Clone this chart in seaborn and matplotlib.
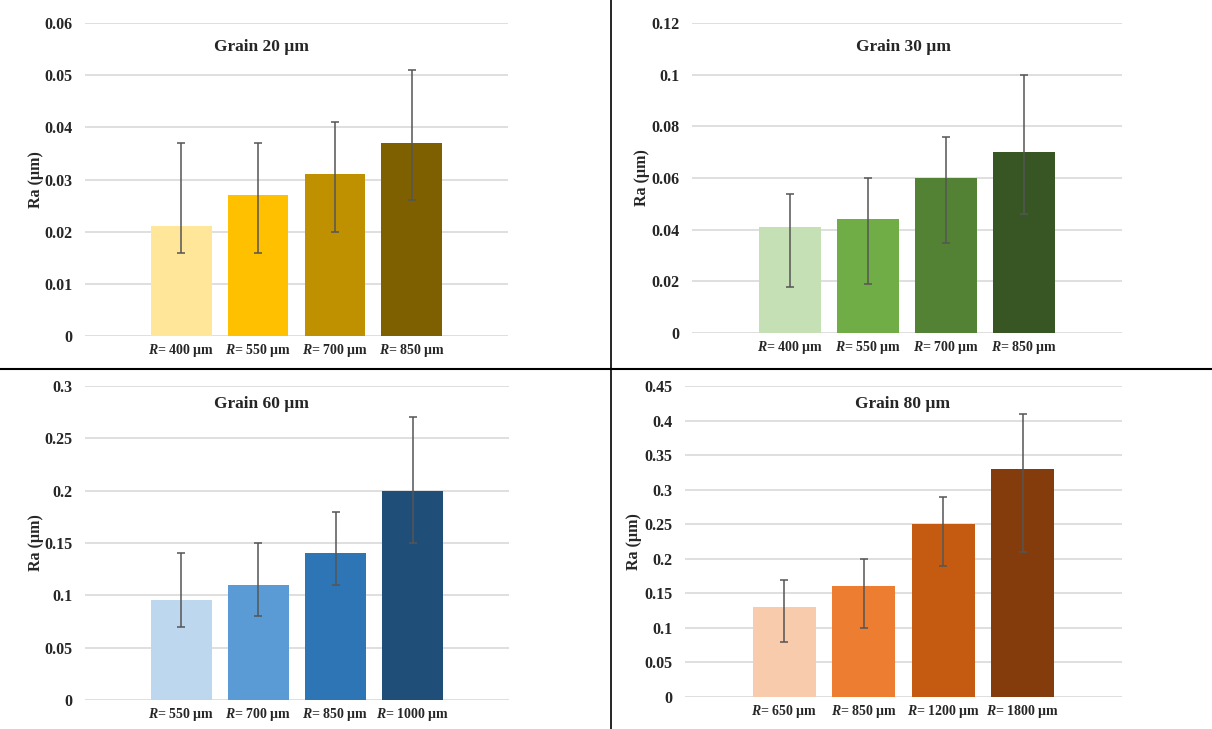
import numpy as np
import pandas as pd
import matplotlib
matplotlib.use("Agg")
import matplotlib.pyplot as plt
import seaborn as sns

# Data
titles = ["Grain 20 µm", "Grain 30 µm", "Grain 60 µm", "Grain 80 µm"]

radius_20 = ["400", "550", "700", "850"]
ra_20 = [0.021, 0.027, 0.031, 0.037]
lo_20 = [0.016, 0.016, 0.020, 0.026]
hi_20 = [0.037, 0.037, 0.041, 0.051]

radius_30 = ["400", "550", "700", "850"]
ra_30 = [0.041, 0.044, 0.060, 0.070]
lo_30 = [0.018, 0.019, 0.035, 0.046]
hi_30 = [0.054, 0.060, 0.076, 0.100]

radius_60 = ["550", "700", "850", "1000"]
ra_60 = [0.096, 0.110, 0.140, 0.200]
lo_60 = [0.070, 0.080, 0.110, 0.150]
hi_60 = [0.140, 0.150, 0.180, 0.270]

radius_80 = ["650", "850", "1200", "1800"]
ra_80 = [0.130, 0.160, 0.250, 0.330]
lo_80 = [0.080, 0.100, 0.190, 0.210]
hi_80 = [0.170, 0.200, 0.290, 0.410]

y_max = [0.06, 0.12, 0.3, 0.45]
y_step = [0.01, 0.02, 0.05, 0.05]

colors_20 = ["#FFE699", "#FFC000", "#BF9000", "#7F6000"]
colors_30 = ["#C5E0B4", "#70AD47", "#548235", "#375623"]
colors_60 = ["#BDD7EE", "#5B9BD5", "#2E75B6", "#1F4E79"]
colors_80 = ["#F8CBAD", "#ED7D31", "#C55A11", "#843C0C"]

sns.set_theme(style="white")
plt.rcParams["font.family"] = ["Liberation Serif", "DejaVu Serif"]
plt.rcParams["mathtext.fontset"] = "custom"
plt.rcParams["mathtext.bfit"] = "Liberation Serif:italic:bold"
plt.rcParams["mathtext.rm"] = "Liberation Serif:bold"

W, H = 1212, 729
fig = plt.figure(figsize=(W / 100, H / 100), dpi=100)

# pixel boxes (left, right, top, bottom) of each plot area, title position, ylabel x
boxes = [(85, 508, 23, 336), (692, 1122, 23, 333), (85, 509, 386, 700), (685, 1122, 386, 697)]
title_pos = [(262, 47), (903, 47), (262, 404), (903, 404)]
ylab_x = [36, 642, 36, 634]

panels = [
    (radius_20, ra_20, lo_20, hi_20, colors_20),
    (radius_30, ra_30, lo_30, hi_30, colors_30),
    (radius_60, ra_60, lo_60, hi_60, colors_60),
    (radius_80, ra_80, lo_80, hi_80, colors_80),
]

for i, (rad, ra, lo, hi, cols) in enumerate(panels):
    l, r, t, b = boxes[i]
    ax = fig.add_axes([l / W, 1 - b / H, (r - l) / W, (b - t) / H])
    labels = [r"$\mathbfit{R}$= " + v + " µm" for v in rad]
    df = pd.DataFrame({"label": labels, "ra": ra})
    sns.barplot(data=df, x="label", y="ra", hue="label", palette=cols,
                order=labels, legend=False, width=0.79, saturation=1, ax=ax,
                linewidth=0, zorder=2)
    ra_a = np.array(ra)
    yerr = [ra_a - np.array(lo), np.array(hi) - ra_a]
    ax.errorbar(np.arange(len(ra)), ra_a, yerr=yerr, fmt="none",
                ecolor="#555555", elinewidth=1.1, capsize=3, capthick=1.1, zorder=3)
    ax.set_xlim(-1.25, len(ra) - 1 + 1.25)
    ax.set_ylim(0, y_max[i])
    ticks = np.round(np.arange(0, y_max[i] + y_step[i] / 2, y_step[i]), 3)
    ax.set_yticks(ticks)
    ax.set_yticklabels([f"{v:g}" for v in ticks], fontsize=11.5, fontweight="bold")
    ax.tick_params(axis="x", labelsize=10, pad=4, length=0)
    ax.tick_params(axis="y", length=0, pad=9)
    for lab in ax.get_xticklabels():
        lab.set_fontweight("bold")
    ax.yaxis.grid(True, color="#D9D9D9", linewidth=1.2, zorder=0)
    ax.set_axisbelow(True)
    for s in ax.spines.values():
        s.set_visible(False)
    ax.set_xlabel("")
    ax.set_ylabel("")
    fig.text(ylab_x[i] / W, 1 - ((t + b) / 2) / H, "Ra (µm)", rotation=90,
             ha="center", va="center", fontsize=11.5, fontweight="bold")
    tx, ty = title_pos[i]
    fig.text(tx / W, 1 - ty / H, titles[i], ha="center", va="center",
             fontsize=12.5, fontweight="bold")

# panel dividers
fig.add_artist(plt.Line2D([611 / W, 611 / W], [0, 1], color="black", linewidth=1.2))
fig.add_artist(plt.Line2D([0, 1], [1 - 369 / H, 1 - 369 / H], color="black", linewidth=1.5))

fig.savefig("out.png", dpi=100)
